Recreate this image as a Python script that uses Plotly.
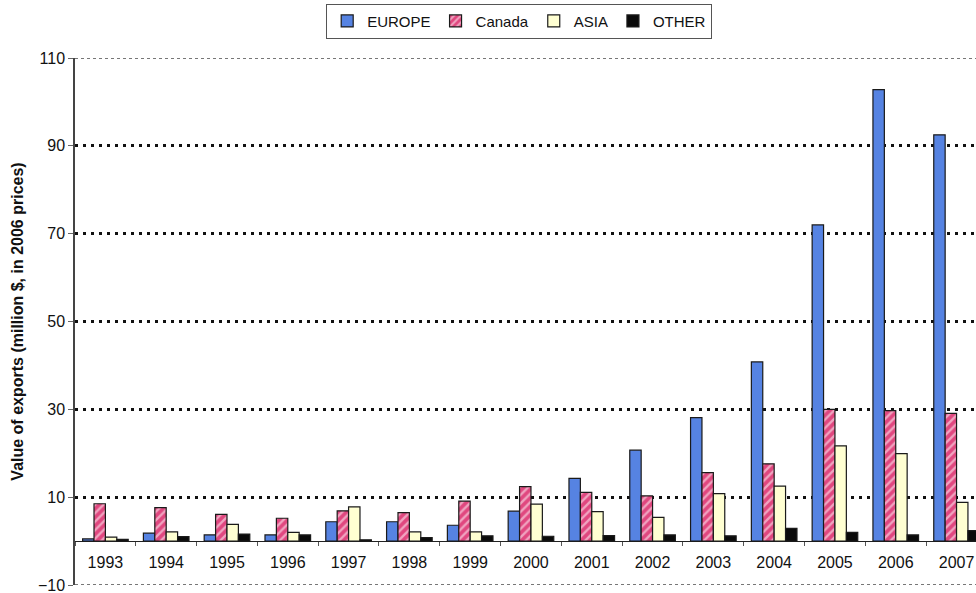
import plotly.graph_objects as go

years = ["1993", "1994", "1995", "1996", "1997", "1998", "1999", "2000",
         "2001", "2002", "2003", "2004", "2005", "2006", "2007"]
europe = [0.5, 1.8, 1.4, 1.4, 4.4, 4.4, 3.6, 6.8, 14.3, 20.7, 28.1, 40.8, 72.0, 102.8, 92.5]
canada = [8.5, 7.6, 6.1, 5.2, 6.9, 6.5, 9.1, 12.4, 11.1, 10.3, 15.6, 17.6, 30.0, 29.7, 29.1]
asia = [0.9, 2.1, 3.8, 2.0, 7.8, 2.1, 2.1, 8.4, 6.7, 5.4, 10.8, 12.5, 21.7, 19.9, 8.8]
other = [0.4, 1.0, 1.6, 1.4, 0.3, 0.8, 1.2, 1.1, 1.25, 1.4, 1.2, 2.9, 2.0, 1.4, 2.4]
y_ticks = [-10, 10, 30, 50, 70, 90, 110]

edge = dict(color="#1a1a1a", width=1.2)

fig = go.Figure()
fig.add_trace(go.Bar(name="EUROPE", x=years, y=europe,
                     marker=dict(color="#5683E2", line=edge)))
fig.add_trace(go.Bar(name="Canada", x=years, y=canada,
                     marker=dict(color="#E0477F", line=edge,
                                 pattern=dict(shape="/", fillmode="overlay",
                                              fgcolor="white", size=6,
                                              solidity=0.4))))
fig.add_trace(go.Bar(name="ASIA", x=years, y=asia,
                     marker=dict(color="#FFFFD2", line=edge)))
fig.add_trace(go.Bar(name="OTHER", x=years, y=other,
                     marker=dict(color="#0a0a0a", line=edge)))

# light dotted frame lines along the top and bottom of the value range
for yv in (y_ticks[0], y_ticks[-1]):
    fig.add_shape(type="line", xref="paper", x0=0, x1=1, yref="y", y0=yv, y1=yv,
                  line=dict(color="#777", width=2, dash="dot"), layer="above")

fig.update_layout(
    barmode="group",
    bargap=0.25,
    bargroupgap=0,
    width=976, height=593,
    margin=dict(l=75, r=0, t=58, b=8),
    paper_bgcolor="white",
    plot_bgcolor="rgba(0,0,0,0)",
    font=dict(family="Liberation Sans, Arial, sans-serif", size=16, color="#222"),
    legend=dict(orientation="h", x=0.493, xanchor="center", y=1.103, yanchor="top",
                bordercolor="#555", borderwidth=1, bgcolor="white",
                font=dict(size=15, color="#111"), itemwidth=30, tracegroupgap=0),
    xaxis=dict(
        range=[-0.5, 14.32],
        anchor="free", position=10 / 120,
        showline=False, showgrid=False,
        ticks="outside", tickson="boundaries", ticklen=4, tickcolor="#555",
        ticklabelstandoff=10,
        tickfont=dict(size=16, color="#111"),
    ),
    yaxis=dict(
        range=[-10, 110],
        tickvals=y_ticks,
        ticklabeloverflow="allow",
        showline=True, linecolor="#444", linewidth=1.5,
        ticks="outside", ticklen=5, tickcolor="#666",
        showgrid=True, gridcolor="#111", griddash="3px,5px", gridwidth=2.5,
        zeroline=True, zerolinecolor="#222", zerolinewidth=1,
        tickfont=dict(size=16, color="#111"),
        title=dict(text="<b>Value of exports (million $, in 2006 prices)</b>",
                   font=dict(size=16, color="#111"), standoff=10),
    ),
)

fig.write_html("out.html")
